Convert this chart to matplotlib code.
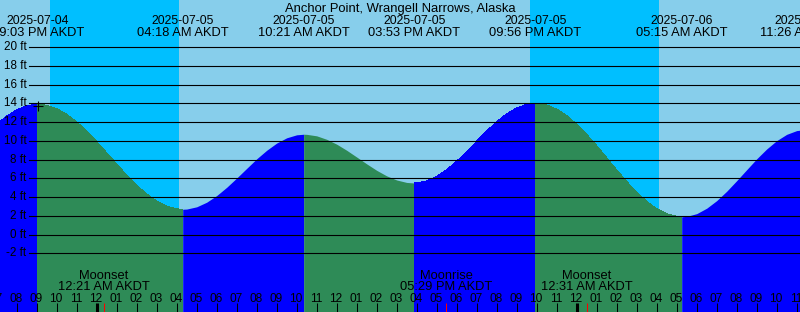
import matplotlib
matplotlib.use("Agg")
import matplotlib.pyplot as plt
import matplotlib.transforms as mtransforms
import numpy as np
import pandas as pd

plt.rcParams['font.family'] = ['Liberation Sans', 'DejaVu Sans']

# ---------------- data ----------------
TITLE = "Anchor Point, Wrangell Narrows, Alaska"
BASE = "2025-07-04 00:00"

# half-hourly water level readings (ft), first reading at 2025-07-04 19:00
level_start = "2025-07-04 19:00"
level_step_minutes = 30
level_ft = [11.77, 12.63, 13.30, 13.73, 13.90, 13.79, 13.43, 12.83, 12.02, 11.03,
            9.92, 8.72, 7.51, 6.34, 5.26, 4.32, 3.57, 3.03, 2.74, 2.72,
            2.96, 3.45, 4.16, 5.04, 6.03, 7.06, 8.08, 8.99, 9.76, 10.32,
            10.64, 10.69, 10.53, 10.16, 9.64, 8.99, 8.27, 7.54, 6.85, 6.26,
            5.82, 5.56, 5.51, 5.72, 6.19, 6.91, 7.82, 8.86, 9.95, 11.04,
            12.03, 12.88, 13.51, 13.89, 14.00, 13.82, 13.38, 12.68, 11.77, 10.68,
            9.47, 8.19, 6.89, 5.65, 4.51, 3.53, 2.75, 2.21, 1.94, 1.94,
            2.23, 2.81, 3.62, 4.62, 5.75, 6.92, 8.08, 9.13, 10.02, 10.69,
            11.09]

# high / low tides
tide_times = ["2025-07-04 21:03", "2025-07-05 04:18", "2025-07-05 10:21",
              "2025-07-05 15:53", "2025-07-05 21:56", "2025-07-06 05:15",
              "2025-07-06 11:26"]
tide_ft = [13.9, 2.7, 10.7, 5.5, 14.0, 1.9, 11.2]

# night (sunset -> sunrise)
sunsets = ["2025-07-04 21:40", "2025-07-05 21:40"]
sunrises = ["2025-07-05 04:07", "2025-07-06 04:07"]

# moon events
moon_names = ["Moonset", "Moonrise", "Moonset"]
moon_times = ["2025-07-05 00:21", "2025-07-05 17:29", "2025-07-06 00:31"]

# mark
mark_ft = 13.7

y_ticks = [-2, 0, 2, 4, 6, 8, 10, 12, 14, 16, 18, 20]

# ---------------- helpers ----------------
base_ts = pd.Timestamp(BASE)


def hrs(s):
    return (pd.Timestamp(s) - base_ts) / pd.Timedelta(hours=1)


W, H = 800, 312
fig = plt.figure(figsize=(W / 100, H / 100), dpi=100, facecolor='#87CEEB')
ax = fig.add_axes([0, 0, 1, 1])
ax.set_axis_off()
ax.set_xlim(19.165, 59.165)
ax.set_ylim(-8.26, 25.02)

xdata_yaxes = mtransforms.blended_transform_factory(ax.transData, ax.transAxes)
xaxes_ydata = mtransforms.blended_transform_factory(ax.transAxes, ax.transData)

# night bands
for s, r in zip(sunsets, sunrises):
    ax.axvspan(hrs(s), hrs(r), color='#00BFFF', lw=0, zorder=0)

# water
t_h = hrs(level_start) + np.arange(len(level_ft)) * level_step_minutes / 60.0
tide_h = np.array([hrs(s) for s in tide_times])
t_all = np.concatenate([t_h, tide_h])
y_all = np.concatenate([np.array(level_ft), np.array(tide_ft)])
order = np.argsort(t_all, kind='stable')
t_all, y_all = t_all[order], y_all[order]
bounds = np.unique(np.concatenate([[t_all[0]], tide_h, [t_all[-1]]]))
for a, b in zip(bounds[:-1], bounds[1:]):
    m = (t_all >= a) & (t_all <= b)
    ts, ys = t_all[m], y_all[m]
    if len(ts) < 2:
        continue
    color = '#0000FF' if ys[-1] > ys[0] else '#2E8B57'
    ax.fill_between(ts, ys, -20, color=color, lw=0, antialiased=False, zorder=1)

# grid lines and level labels
for v in y_ticks:
    ax.axhline(v, xmin=29 / W, xmax=1, color='black', lw=0.8, zorder=3)
    ax.text(26.5 / W, v, f"{v} ft", transform=xaxes_ydata, ha='right',
            va='center', fontsize=8.4, color='black', zorder=5)

# mark
ax.plot([tide_h[0]], [mark_ft], marker='+', ms=6.5, mew=0.8, color='black',
        zorder=4, ls='none')

# title
fig.text(0.5, 1 - 12 / H, TITLE, ha='center', va='baseline', fontsize=9.4)

# tide labels
for s in tide_times:
    ts = pd.Timestamp(s)
    h = hrs(s)
    ax.text(h, 1 - 24.3 / H, ts.strftime('%Y-%m-%d'), transform=xdata_yaxes,
            ha='center', va='baseline', fontsize=8.85, zorder=5)
    ax.text(h, 1 - 36 / H, ts.strftime('%I:%M %p') + ' AKDT',
            transform=xdata_yaxes, ha='center', va='baseline', fontsize=9.3,
            zorder=5)

# moon labels
for name, s in zip(moon_names, moon_times):
    ts = pd.Timestamp(s)
    h = hrs(s)
    ax.text(h, 1 - 278.6 / H, name, transform=xdata_yaxes, ha='center',
            va='baseline', fontsize=9.3, zorder=5)
    ax.text(h, 1 - 290 / H, ts.strftime('%I:%M %p') + ' AKDT',
            transform=xdata_yaxes, ha='center', va='baseline', fontsize=9.3,
            zorder=5)

# hour labels and ticks
hours = np.arange(19, 60)
for hh in hours:
    lbl = f"{(hh % 12) or 12:02d}"
    ax.text(hh - 0.03, 1 - 301.5 / H, lbl, transform=xdata_yaxes, ha='center',
            va='baseline', fontsize=8.6, zorder=5)
normal = [hh for hh in hours if hh % 24 != 0]
midnight = [hh for hh in hours if hh % 24 == 0]
ax.vlines(normal, 0, 9 / H, transform=xdata_yaxes, color='black', lw=0.75,
          zorder=5)
ax.vlines(midnight, 0, 9 / H, transform=xdata_yaxes, color='black', lw=2.2,
          zorder=5)
ax.vlines([hrs(s) for s in moon_times], 0, 9 / H, transform=xdata_yaxes,
          color='red', lw=0.75, zorder=5)

fig.savefig('out.png', dpi=100, facecolor=fig.get_facecolor())
